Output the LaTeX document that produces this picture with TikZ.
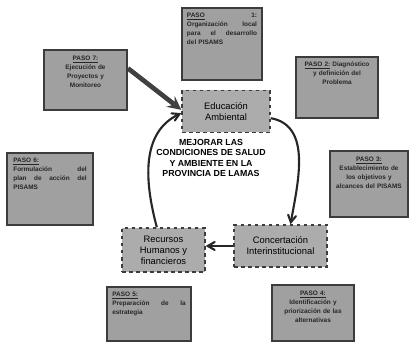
\documentclass[tikz,border=0pt]{standalone}
\usepackage{fontspec}
\setmainfont{Liberation Sans}
\usepackage{tikz}
\usetikzlibrary{arrows,shapes,positioning}
\definecolor{pasogray}{RGB}{160,160,160}
\definecolor{ejegray}{RGB}{172,172,172}
\definecolor{bordegray}{RGB}{60,60,60}
\tikzstyle{paso} = [rectangle, draw=bordegray, fill=pasogray, line width=1.6pt, inner sep=0pt]
\tikzstyle{pasotxt} = [font=\fontsize{5.5}{7.5}\selectfont\bfseries, text=black!85, inner sep=0pt]
\tikzstyle{eje} = [rectangle, draw=bordegray, fill=ejegray, dashed, line width=1.2pt, text centered, align=center, font=\fontsize{8}{9.5}\selectfont]
\tikzstyle{ciclo} = [line width=1.8pt,->,>=angle 60,color=black!85]
\tikzstyle{flecha} = [line width=4pt,->,>=stealth,color=black!75]

\begin{document}
\begin{tikzpicture}[x=0.03cm, y=-0.03cm]
\useasboundingbox (0,0) rectangle (409,343);

% Pasos
\node (p1) [paso, minimum width=2.4cm, minimum height=2.16cm] at (222,44) {};
\node (p2) [paso, minimum width=2.46cm, minimum height=1.83cm] at (337,87.5) {};
\node (p3) [paso, minimum width=2.34cm, minimum height=1.98cm] at (369,184) {};
\node (p4) [paso, minimum width=2.46cm, minimum height=1.68cm] at (313,313) {};
\node (p5) [paso, minimum width=2.52cm, minimum height=1.62cm] at (149,314) {};
\node (p6) [paso, minimum width=2.58cm, minimum height=2.16cm] at (50,189) {};
\node (p7) [paso, minimum width=2.49cm, minimum height=1.8cm] at (85.5,80) {};

% Texto de los pasos
\node (p1t) [pasotxt, below=5pt of p1.north, text width=2.1cm, align=left] {\underline{PASO}\hfill 1:\\Organización\hfill local\\para\hfill el\hfill desarrollo\\del PISAMS};
\node (p2t) [pasotxt, below=5pt of p2.north, text width=2.2cm, align=center] {\underline{PASO 2:} Diagnóstico\\y definición del\\Problema};
\node (p3t) [pasotxt, below=6pt of p3.north, text width=2.2cm, align=center] {\underline{PASO 3:}\\Establecimiento de\\los objetivos y\\alcances del PISAMS};
\node (p4t) [pasotxt, below=6pt of p4.north, text width=2.2cm, align=center] {\underline{PASO 4:}\\Identificación y\\priorización de las\\alternativas};
\node (p5t) [pasotxt, below=5pt of p5.north, text width=2.2cm, align=left] {\underline{PASO 5:}\\Preparación\hfill de\hfill la\\estrategia};
\node (p6t) [pasotxt, below=5pt of p6.north, text width=2.2cm, align=left] {\underline{PASO 6:}\\Formulación\hfill del\\plan\hfill de\hfill acción\hfill del\\PISAMS};
\node (p7t) [pasotxt, below=6pt of p7.north, text width=2.2cm, align=center] {\underline{PASO 7:}\\Ejecución de\\Proyectos y\\Monitoreo};

% Ejes del ciclo
\node (educ) [eje, minimum width=2.64cm, minimum height=1.26cm] at (226,111.5) {Educación\\Ambiental};
\node (conc) [eje, minimum width=2.79cm, minimum height=1.26cm] at (280.5,246) {Concertación\\Interinstitucional};
\node (recur) [eje, minimum width=2.49cm, minimum height=1.32cm] at (163.5,250) {Recursos\\Humanos y\\financieros};

% Objetivo central
\node (meta) [font=\fontsize{7.5}{9}\selectfont\bfseries, align=center] at (211,158) {MEJORAR LAS\\CONDICIONES DE SALUD\\Y AMBIENTE EN LA\\PROVINCIA DE LAMAS};

% Flechas
\draw[flecha] ([yshift=0.35cm]p7.east) -- ([yshift=0.05cm]educ.west);
\draw[ciclo] ([yshift=-0.2cm]educ.east) to[out=-10, in=80] ([xshift=0.3cm]conc.north);
\draw[ciclo] (conc.west) -- ([yshift=0.12cm]recur.east);
\draw[ciclo] ([xshift=-0.2cm]recur.north) to[out=105, in=205] ([yshift=-0.05cm]educ.west);
\end{tikzpicture}
\end{document}
